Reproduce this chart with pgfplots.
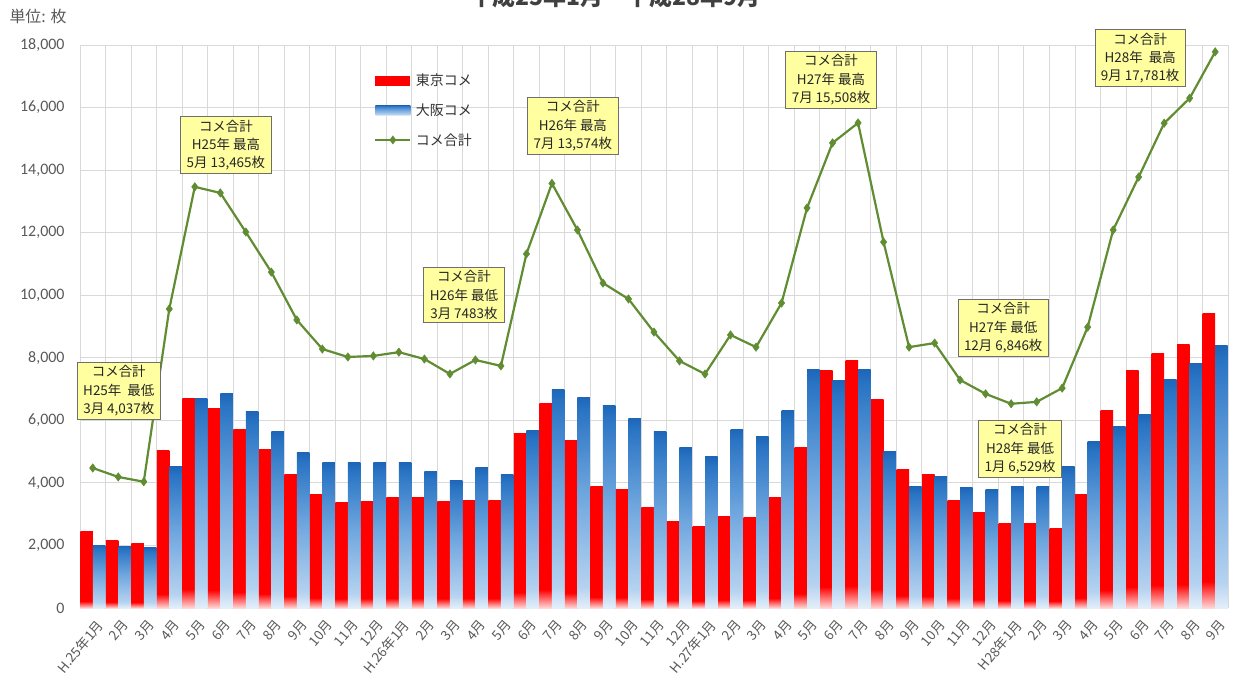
\documentclass[border=0pt]{standalone}
\usepackage{fontspec}
\setmainfont{Carlito}
\newfontfamily\jp{Noto Sans CJK JP}
\usepackage{pgfplots}
\usepackage{pgfplotstable}
\pgfplotsset{compat=1.18}
\definecolor{gridc}{HTML}{D9D9D9}
\definecolor{tickc}{HTML}{595959}
\definecolor{greenl}{RGB}{96,140,50}
\definecolor{annfill}{RGB}{255,255,160}
\definecolor{annedge}{RGB}{110,110,110}
\definecolor{bl0}{HTML}{E4EFFA}
\definecolor{bl1}{HTML}{B5D2F0}
\definecolor{bl2}{HTML}{6FA6DE}
\definecolor{bl3}{HTML}{2A74C4}
\definecolor{bl4}{HTML}{1E66B8}
\definecolor{rd0}{HTML}{FFD8D8}
\definecolor{rd1}{HTML}{FF0000}
\pgfdeclareverticalshading{redbar}{100bp}{color(0bp)=(rd0); color(25bp)=(rd0); color(29.5bp)=(rd1); color(100bp)=(rd1)}
\pgfdeclareverticalshading{bluebar}{100bp}{color(0bp)=(bl0); color(25bp)=(bl0); color(30bp)=(bl1); color(52bp)=(bl2); color(72bp)=(bl3); color(75bp)=(bl4); color(100bp)=(bl4)}

\pgfplotstableread{
x T O S
0 2430 2010 4476
1 2170 1980 4190
2 2050 1920 4037
3 5020 4510 9560
4 6710 6710 13465
5 6390 6870 13270
6 5720 6270 12020
7 5080 5630 10740
8 4280 4960 9210
9 3640 4640 8280
10 3360 4640 8025
11 3420 4640 8060
12 3520 4640 8180
13 3520 4380 7960
14 3400 4083 7483
15 3450 4480 7930
16 3450 4280 7740
17 5590 5690 11320
18 6550 7000 13574
19 5370 6745 12085
20 3900 6490 10390
21 3800 6070 9880
22 3200 5630 8820
23 2780 5120 7900
24 2620 4830 7480
25 2940 5720 8730
26 2880 5470 8340
27 3520 6300 9750
28 5120 7610 12790
29 7580 7260 14870
30 7900 7610 15508
31 6680 4990 11700
32 4440 3870 8340
33 4280 4220 8470
34 3450 3840 7290
35 3040 3800 6846
36 2690 3870 6529
37 2690 3900 6590
38 2530 4510 7030
39 3640 5310 8980
40 6330 5790 12085
41 7580 6200 13780
42 8150 7320 15500
43 8440 7830 16300
44 9400 8380 17781
}\data

\begin{document}
\begin{tikzpicture}
\begin{axis}[
  at={(0,0)}, anchor=south west, scale only axis,
  width=1148bp, height=563bp,
  xmin=-0.5, xmax=44.5, ymin=0, ymax=18000,
  xtick={0,...,44},
  xticklabels={H.25年1月,2月,3月,4月,5月,6月,7月,8月,9月,10月,11月,12月,H.26年1月,2月,3月,4月,5月,6月,7月,8月,9月,10月,11月,12月,H.27年1月,2月,3月,4月,5月,6月,7月,8月,9月,10月,11月,12月,H28年1月,2月,3月,4月,5月,6月,7月,8月,9月},
  minor xtick={-0.5,0.5,...,44.5},
  xminorgrids=true, xmajorgrids=false, ymajorgrids=true,
  grid style={gridc, line width=0.8bp},
  minor grid style={gridc, line width=0.8bp},
  ytick={0,2000,...,18000},
  scaled y ticks=false,
  y tick label style={/pgf/number format/1000 sep={,}, /pgf/number format/assume math mode=true,
    font=\fontsize{16}{16}\selectfont, text=tickc, xshift=-12bp},
  x tick label style={font=\jp\fontsize{13.5}{14}\selectfont, text=tickc, rotate=50, anchor=north east, inner sep=1bp, xshift=-5bp, yshift=-8bp},
  major tick length=0, minor tick length=0,
  axis line style={draw=none},
  clip=false,
  legend style={at={(0.254,0.956)}, anchor=north west, draw=none, fill=none,
    font=\jp\fontsize{14}{14}\selectfont, text=black!80, row sep=12.5bp,
    /tikz/every odd column/.append style={column sep=3bp}},
  legend cell align=left,
]
\addlegendimage{legend image code/.code={\fill[rd1, draw=none] (0bp,-5bp) rectangle (35bp,5bp);}}
\addlegendentry{東京コメ}
\addlegendimage{legend image code/.code={\shade[shading=bluebar, draw=none] (0bp,-5bp) rectangle (35bp,5bp);}}
\addlegendentry{大阪コメ}
\pgfplotsinvokeforeach{0,...,44}{
\addplot[ybar, bar width=12.5bp, bar shift=-6.25bp, draw=none, shading=redbar, forget plot,
  restrict x to domain=#1:#1] table[x=x,y=T]{\data};
\addplot[ybar, bar width=12.5bp, bar shift=6.25bp, draw=none, shading=bluebar, forget plot,
  restrict x to domain=#1:#1] table[x=x,y=O]{\data};
}
\addplot[greenl, line width=2.2bp, mark=diamond*, mark size=4.2bp,
  mark options={fill=greenl, draw=greenl, line width=0.5bp},
  legend image code/.code={\draw[greenl, line width=1.2bp, mark=diamond*, mark size=3.5bp, mark options={fill=greenl, draw=greenl}, mark repeat=2, mark phase=2] plot coordinates {(0bp,0bp) (17.5bp,0bp) (35bp,0bp)};}]
  table[x=x,y=S]{\data};
\addlegendentry{コメ合計}

\tikzset{ann/.style={draw=annedge, line width=0.8bp, fill=annfill, align=center,
  font=\jp\fontsize{13.5}{18.5}\selectfont, text=black!85, inner xsep=6bp, inner ysep=3bp}}
\node[ann] at (axis cs:1.02,6937) {コメ合計\\H25年\ \ 最低\\3月 4,037枚};
\node[ann] at (axis cs:5.22,14800) {コメ合計\\H25年 最高\\5月 13,465枚};
\node[ann] at (axis cs:14.55,10006) {コメ合計\\H26年 最低\\3月 7483枚};
\node[ann] at (axis cs:18.82,15410) {コメ合計\\H26年 最高\\7月 13,574枚};
\node[ann] at (axis cs:28.94,16880) {コメ合計\\H27年 最高\\7月 15,508枚};
\node[ann] at (axis cs:35.69,8950) {コメ合計\\H27年 最低\\12月 6,846枚};
\node[ann] at (axis cs:36.35,5083) {コメ合計\\H28年 最低\\1月 6,529枚};
\node[ann] at (axis cs:41.06,17580) {コメ合計\\H28年\ \ 最高\\9月 17,781枚};
\end{axis}
\node[anchor=base west, font=\jp\fontsize{16}{16}\selectfont, text=tickc] at (-74bp,585bp) {単位: 枚};
\node[anchor=base, font=\jp\bfseries\fontsize{23}{23}\selectfont, text=black!75] at (535bp,602bp) {平成25年1月～平成28年9月};
\pgfresetboundingbox
\useasboundingbox (-80bp,-86bp) rectangle (1155bp,608bp);
\end{tikzpicture}
\end{document}
